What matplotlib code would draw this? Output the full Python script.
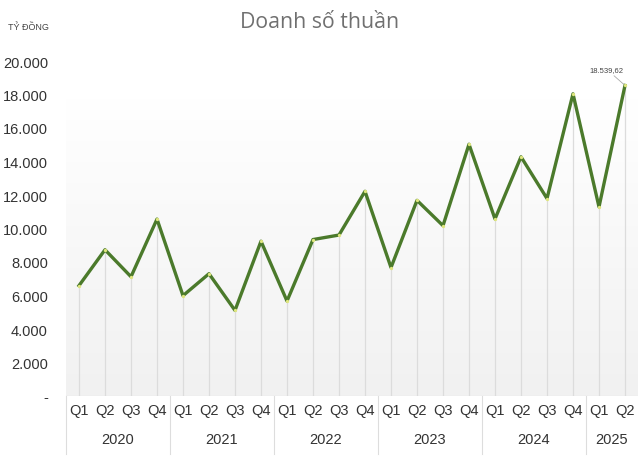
import numpy as np
import matplotlib
matplotlib.use('Agg')
import matplotlib.pyplot as plt
from matplotlib.transforms import blended_transform_factory

# Doanh số thuần theo quý (tỷ đồng)
years = ['2020', '2021', '2022', '2023', '2024', '2025']
quarters_per_year = [4, 4, 4, 4, 4, 2]
quarter_labels = ['Q1', 'Q2', 'Q3', 'Q4'] * 5 + ['Q1', 'Q2']
revenue = [6590, 8730, 7120, 10560,
           5990, 7300, 5110, 9240,
           5670, 9340, 9610, 12220,
           7670, 11680, 10170, 15030,
           10570, 14280, 11790, 18040,
           11290, 18539.62]
y_ticks = [0, 2000, 4000, 6000, 8000, 10000, 12000, 14000, 16000, 18000, 20000]

W, H = 640, 464
fig = plt.figure(figsize=(W / 100, H / 100), dpi=100)
ax = fig.add_axes([66 / W, (H - 397) / H, (638 - 66) / W, (397 - 62) / H])

x = np.arange(len(revenue))
ax.set_xlim(-0.5, len(revenue) - 0.5)
ax.set_ylim(0, 20000)

# gradient background (white on top -> light grey at bottom)
grad = np.linspace(1.0, 0.0, 256).reshape(-1, 1)
top = np.array([1.0, 1.0, 1.0])
bottom = np.array([0.945, 0.945, 0.945])
img = top * grad[..., None] + bottom * (1 - grad[..., None])
ax.imshow(img, extent=[0, 1, 0, 0.887], transform=ax.transAxes,
          aspect='auto', zorder=0)

# drop lines
ax.vlines(x, 0, revenue, color='#dcdcdc', lw=0.9, zorder=1)

ax.plot(x, revenue, color='#4b7a2b', lw=2.4, solid_joinstyle='round', zorder=3)
ax.plot(x, revenue, 'o', ms=2.4, mfc='#dfe67e', mec='none', zorder=4)

# last value label
last = len(revenue) - 1
ax.annotate('18.539,62', xy=(x[last], revenue[last]), xytext=(-13, 9),
            textcoords='offset points', ha='center', va='bottom',
            fontsize=5.5, color='#444444', family='Liberation Sans',
            arrowprops=dict(arrowstyle='-', color='#aaaaaa', lw=0.6,
                            shrinkA=0, shrinkB=1.5), zorder=5)

for s in ax.spines.values():
    s.set_visible(False)
ax.axhline(0, color='#e2e2e2', lw=0.8, zorder=2)

ax.set_yticks(y_ticks)
ax.set_yticklabels(['-'] + [f'{v:,}'.replace(',', '.') for v in y_ticks[1:]])
ax.tick_params(axis='y', length=0, pad=13, labelsize=10.5, labelcolor='#333333')
for t in ax.get_yticklabels():
    t.set_family('Liberation Sans')

ax.set_xticks(x)
ax.set_xticklabels(quarter_labels)
ax.tick_params(axis='x', length=0, pad=5, labelsize=10.5, labelcolor='#333333')
for t in ax.get_xticklabels():
    t.set_family('Liberation Sans')

# year groups
trans = blended_transform_factory(ax.transData, ax.transAxes)
y_sep_bottom = -(455 - 397) / (397 - 62)
start = -0.5
ax.plot([start, start], [0, y_sep_bottom], transform=trans, color='#dddddd',
        lw=0.8, clip_on=False)
for yr, n in zip(years, quarters_per_year):
    end = start + n
    ax.text((start + end) / 2, -(440 - 397) / (397 - 62), yr, transform=trans,
            ha='center', va='center', fontsize=10.5, color='#333333',
            family='Liberation Sans')
    if end < len(revenue) - 0.5:
        ax.plot([end, end], [0, y_sep_bottom], transform=trans,
                color='#dddddd', lw=0.8, clip_on=False)
    start = end

fig.text(320 / W, 1 - 22 / H, 'Doanh số thuần', ha='center', va='center',
         fontsize=15.3, color='#707070', family='Open Sans')
fig.text(8 / W, 1 - 27 / H, 'TỶ ĐỒNG', ha='left', va='center',
         fontsize=6.5, color='#444444', family='Liberation Sans')

fig.savefig('out.png', dpi=100)
